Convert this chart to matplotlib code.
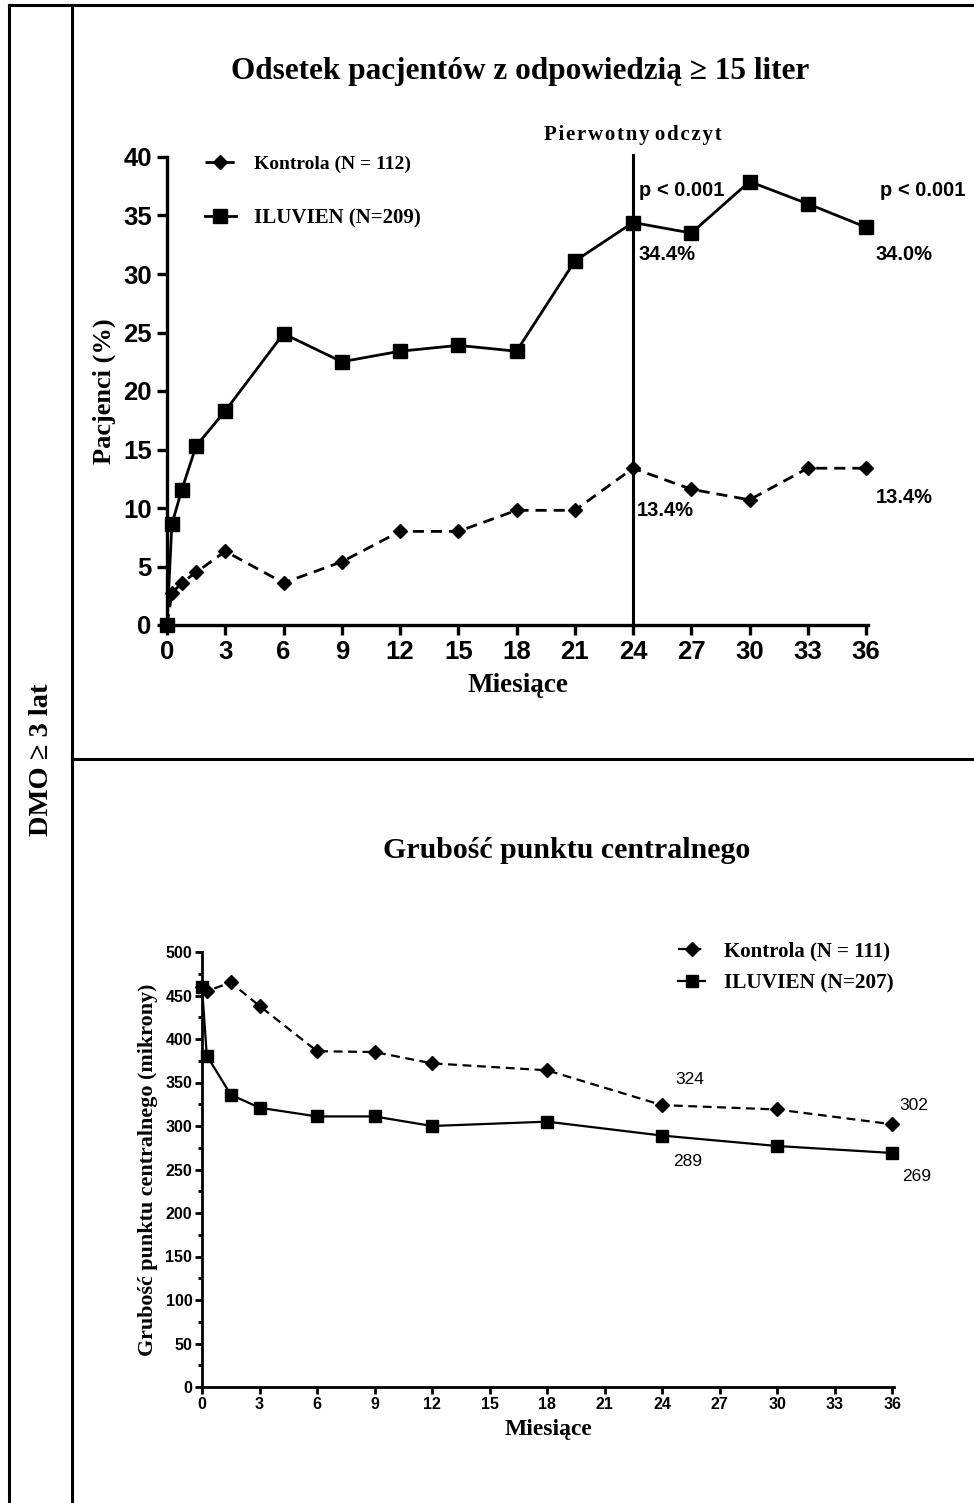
import matplotlib
matplotlib.use("Agg")
import matplotlib.pyplot as plt
from matplotlib.lines import Line2D

# --- data: odsetek pacjentow z odpowiedzia >= 15 liter ---
months_top = [0, 0.25, 0.75, 1.5, 3, 6, 9, 12, 15, 18, 21, 24, 27, 30, 33, 36]
iluvien_top = [0, 8.6, 11.5, 15.3, 18.3, 24.9, 22.5, 23.4, 23.9, 23.4, 31.1, 34.4, 33.5, 37.9, 36.0, 34.0]
kontrola_top = [0, 2.7, 3.6, 4.5, 6.3, 3.6, 5.4, 8.0, 8.0, 9.8, 9.8, 13.4, 11.6, 10.7, 13.4, 13.4]

# --- data: grubosc punktu centralnego ---
months_bot = [0, 0.25, 1.5, 3, 6, 9, 12, 18, 24, 30, 36]
iluvien_bot = [460, 381, 336, 321, 311, 311, 300, 305, 289, 277, 269]
kontrola_bot = [460, 455, 465, 438, 386, 385, 372, 364, 324, 319, 302]

xticks = list(range(0, 37, 3))
serif = ['Liberation Serif', 'DejaVu Serif']
sans = ['Liberation Sans', 'DejaVu Sans']

W, H = 974, 1503
fig = plt.figure(figsize=(W / 100, H / 100), dpi=100)


def px(x, y):
    return x / W, 1 - y / H


def fig_line(x0, y0, x1, y1, lw=2.2):
    a, b = px(x0, y0)
    c, d = px(x1, y1)
    fig.add_artist(Line2D([a, c], [b, d], transform=fig.transFigure, color='black', lw=lw))


# table frame
fig_line(9, 5, 974, 5)
fig_line(9, 5, 9, 1503)
fig_line(72, 5, 72, 1503)
fig_line(72, 759, 974, 759)
fig.text(*px(42, 760), 'DMO ≥ 3 lat', rotation=90, ha='center', va='center',
         family=serif, fontweight='bold', fontsize=20.5)

# ---------------- top chart ----------------
ax1 = fig.add_axes([167 / W, 1 - 625 / H, 701 / W, 468 / H])
l_k1, = ax1.plot(months_top, kontrola_top, color='black', ls=(0, (4, 2.5)), lw=2,
                 marker='D', ms=7.5, clip_on=False, zorder=3)
l_i1, = ax1.plot(months_top, iluvien_top, color='black', ls='-', lw=2,
                 marker='s', ms=9.5, clip_on=False, zorder=3)
ax1.plot([24, 24], [0, 40.2], color='black', lw=2.2, clip_on=False)
ax1.set_xlim(0, 36.1)
ax1.set_ylim(0, 40)
ax1.set_xticks(xticks)
ax1.set_yticks(range(0, 41, 5))
for s in ['top', 'right']:
    ax1.spines[s].set_visible(False)
for s in ['left', 'bottom']:
    ax1.spines[s].set_linewidth(2.4)
ax1.tick_params(width=2.4, length=7, labelsize=18.5, pad=4)
for lab in ax1.get_xticklabels() + ax1.get_yticklabels():
    lab.set_family(sans)
    lab.set_fontweight('bold')
ax1.set_xlabel('Miesiące', family=serif, fontweight='bold', fontsize=19.5, labelpad=6)
ax1.set_ylabel('Pacjenci (%)', family=serif, fontweight='bold', fontsize=19, labelpad=5)
fig.text(*px(520, 72), 'Odsetek pacjentów z odpowiedzią ≥ 15 liter', ha='center', va='center',
         family=serif, fontweight='bold', fontsize=22.5)
spaced = '\u200a'.join('Pierwotny') + ' ' + '\u200a'.join('odczyt')
ax1.text(24, 41.9, spaced, ha='center', va='center', family=serif,
         fontweight='bold', fontsize=15)
ann = dict(family=sans, fontweight='bold', fontsize=14.5, va='center')
ax1.text(24.3, 37.1, 'p < 0.001', ha='left', **ann)
ax1.text(24.3, 31.7, '34.4%', ha='left', **ann)
ax1.text(24.2, 9.8, '13.4%', ha='left', **ann)
ax1.text(36.7, 37.1, 'p < 0.001', ha='left', **ann)
ax1.text(36.5, 31.7, '34.0%', ha='left', **ann)
ax1.text(36.5, 10.9, '13.4%', ha='left', **ann)

leg1 = ax1.legend([l_k1, l_i1], ['Kontrola (N = 112)', 'ILUVIEN (N=209)'],
                  loc='upper left', bbox_to_anchor=(0.027, 1.045), frameon=False,
                  handlelength=1.5, handletextpad=0.85, labelspacing=1.7,
                  prop=dict(family=serif, weight='bold', size=15))
leg1.get_texts()[0].set_fontsize(14)

# ---------------- bottom chart ----------------
ax2 = fig.add_axes([202 / W, 1 - 1387 / H, 692 / W, 435 / H])
l_k2, = ax2.plot(months_bot, kontrola_bot, color='black', ls=(0, (4, 2.5)), lw=1.6,
                 marker='D', ms=7, clip_on=False, zorder=3)
l_i2, = ax2.plot(months_bot, iluvien_bot, color='black', ls='-', lw=1.6,
                 marker='s', ms=8, clip_on=False, zorder=3)
ax2.set_xlim(0, 36.1)
ax2.set_ylim(0, 500)
ax2.set_xticks(xticks)
ax2.set_yticks(range(0, 501, 50))
ax2.set_yticks(range(25, 500, 50), minor=True)
for s in ['top', 'right']:
    ax2.spines[s].set_visible(False)
for s in ['left', 'bottom']:
    ax2.spines[s].set_linewidth(2)
ax2.tick_params(which='major', width=2, length=5, labelsize=11.5, pad=2)
ax2.tick_params(axis='y', which='minor', width=2, length=3)
for lab in ax2.get_xticklabels() + ax2.get_yticklabels():
    lab.set_family(sans)
    lab.set_fontweight('bold')
ax2.set_xlabel('Miesiące', family=serif, fontweight='bold', fontsize=17, labelpad=5)
ax2.set_ylabel('Grubość punktu centralnego (mikrony)', family=serif, fontweight='bold',
               fontsize=15.8, labelpad=5)
fig.text(*px(567, 851), 'Grubość punktu centralnego', ha='center', va='center',
         family=serif, fontweight='bold', fontsize=21.5)
ann2 = dict(family=sans, fontsize=12.5, va='center', ha='left')
ax2.text(24.7, 354, '324', **ann2)
ax2.text(24.6, 259, '289', **ann2)
ax2.text(36.4, 323, '302', **ann2)
ax2.text(36.5, 242, '269', **ann2)

leg2 = ax2.legend([l_k2, l_i2], ['Kontrola (N = 111)', 'ILUVIEN (N=207)'],
                  loc='upper left', bbox_to_anchor=(0.66, 1.068), frameon=False,
                  handlelength=1.3, handletextpad=0.85, labelspacing=0.55,
                  prop=dict(family=serif, weight='bold', size=15.3))
leg2.get_texts()[0].set_fontsize(15)

fig.savefig('out.png', dpi=100)
